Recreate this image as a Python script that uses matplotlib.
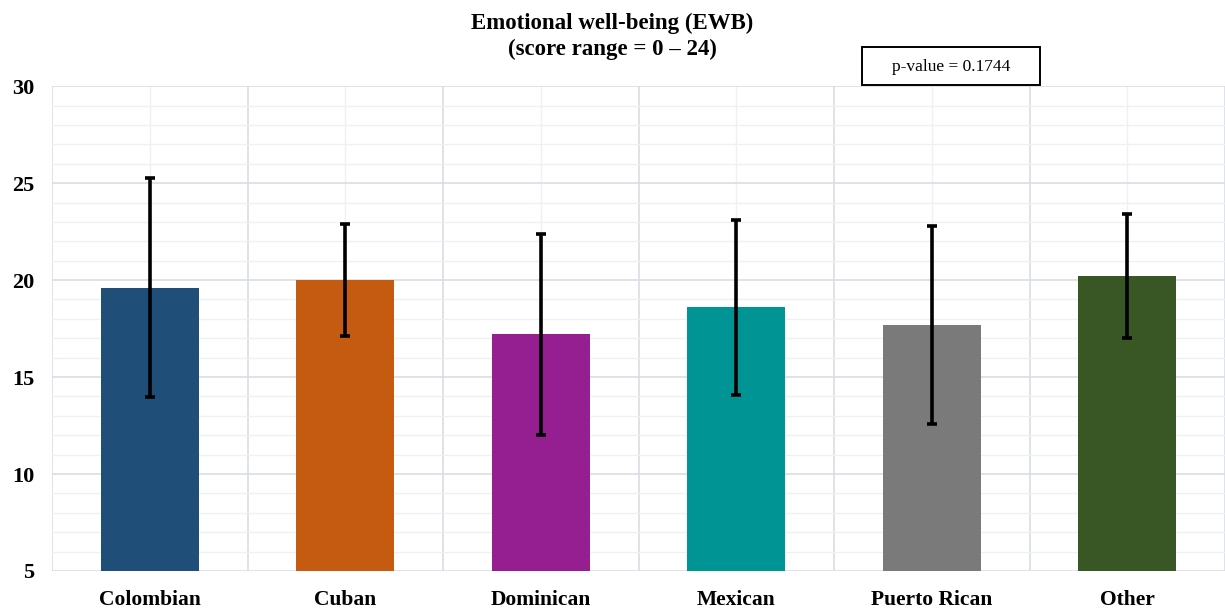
import numpy as np
import matplotlib.pyplot as plt
from matplotlib.patches import Rectangle
from matplotlib.ticker import MultipleLocator, FixedLocator

plt.rcParams.update({"font.family": "serif", "font.serif": ["Liberation Serif", "DejaVu Serif"]})

groups = ["Colombian", "Cuban", "Dominican", "Mexican", "Puerto Rican", "Other"]
means = [19.6, 20.0, 17.2, 18.6, 17.7, 20.2]
sds = [5.65, 2.9, 5.2, 4.5, 5.1, 3.2]
colors = ["#1F4E79", "#C55A11", "#951F91", "#009494", "#7A7A7A", "#385724"]
p_value = 0.1744

fig = plt.figure(figsize=(12.25, 6.11), dpi=100)
ax = fig.add_axes([0.0425, 0.0655, 0.9575, 0.7935])

x = np.arange(len(groups))
ax.bar(x, [m - 5 for m in means], bottom=5, width=0.5, color=colors, zorder=3)
ax.errorbar(x, means, yerr=sds, fmt="none", ecolor="black", elinewidth=2.6,
            capsize=3.5, capthick=2.6, zorder=4)

ax.set_xlim(-0.5, len(groups) - 0.5)
ax.set_ylim(5, 30)
ax.yaxis.set_major_locator(MultipleLocator(5))
ax.yaxis.set_minor_locator(MultipleLocator(1))
ax.xaxis.set_major_locator(FixedLocator(x))
ax.xaxis.set_minor_locator(FixedLocator(np.arange(len(groups) + 1) - 0.5))

ax.set_xticklabels(groups, fontsize=15.5, fontweight="bold")
ax.set_yticks([5, 10, 15, 20, 25, 30])
ax.set_yticklabels(["5", "10", "15", "20", "25", "30"], fontsize=16, fontweight="bold")
ax.tick_params(axis="both", which="both", length=0)
ax.tick_params(axis="x", pad=14)
ax.tick_params(axis="y", pad=13)

# horizontal grid: major every 5, minor every 1; vertical grid at group borders and centres
ax.grid(axis="y", which="major", color="#D9DDE5", linewidth=1.2, zorder=0)
ax.grid(axis="y", which="minor", color="#EEF0F3", linewidth=1.0, zorder=0)
ax.grid(axis="x", which="minor", color="#D9DDE5", linewidth=1.2, zorder=0)
ax.grid(axis="x", which="major", color="#EEF0F3", linewidth=1.0, zorder=0)
for s in ax.spines.values():
    s.set_visible(False)
ax.set_axisbelow(True)

fig.text(0.5, 0.94, "Emotional well-being (EWB)\n(score range = 0 \u2013 24)",
         ha="center", va="center", fontsize=16.5, fontweight="bold", linespacing=1.3)

# p-value box
fig.patches.append(Rectangle((862 / 1225, 1 - 85 / 611), 178 / 1225, 38 / 611,
                             transform=fig.transFigure, facecolor="white",
                             edgecolor="black", linewidth=1.4, zorder=5))
fig.text(951 / 1225, 1 - 67 / 611, f"p-value = {p_value}", ha="center", va="center",
         fontsize=12.5, zorder=6)

plt.savefig("out.png", dpi=100, facecolor="white")
